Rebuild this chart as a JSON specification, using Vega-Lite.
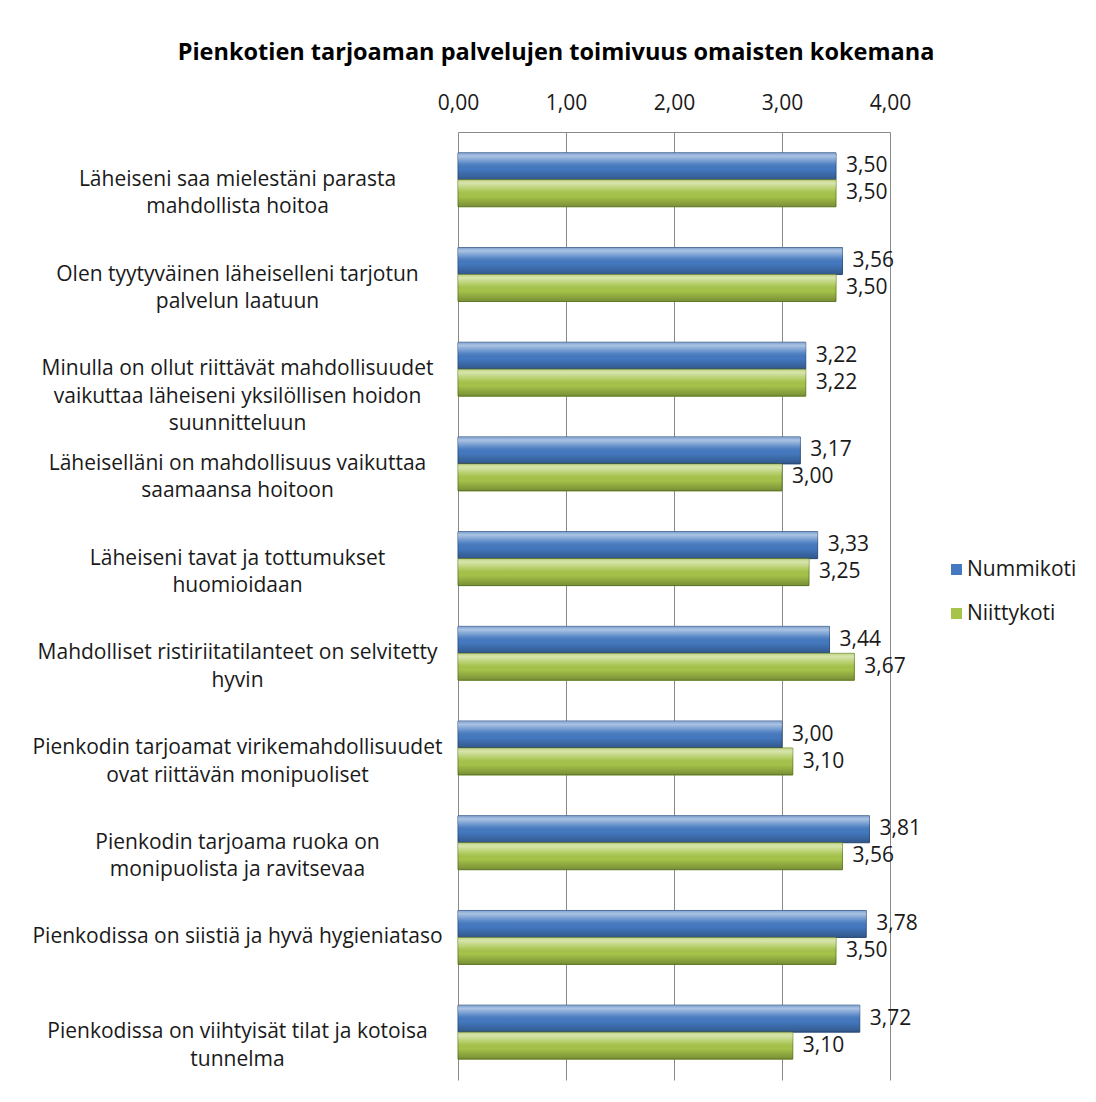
{
  "$schema": "https://vega.github.io/schema/vega-lite/v6.json",
  "autosize": {"type": "none"},
  "width": 432,
  "height": 948,
  "padding": {"left": 458, "top": 132, "right": 206, "bottom": 22},
  "background": "white",
  "title": {
    "text": "Pienkotien tarjoaman palvelujen toimivuus omaisten kokemana",
    "font": "Open Sans",
    "fontSize": 23.5,
    "fontWeight": "bold",
    "color": "#000000",
    "anchor": "middle",
    "frame": "group",
    "dx": -118,
    "offset": 28
  },
  "data": {
    "values": [
      {"kysymys": "Läheiseni saa mielestäni parasta|mahdollista hoitoa", "koti": "Nummikoti", "arvo": 3.50},
      {"kysymys": "Läheiseni saa mielestäni parasta|mahdollista hoitoa", "koti": "Niittykoti", "arvo": 3.50},
      {"kysymys": "Olen tyytyväinen läheiselleni tarjotun|palvelun laatuun", "koti": "Nummikoti", "arvo": 3.56},
      {"kysymys": "Olen tyytyväinen läheiselleni tarjotun|palvelun laatuun", "koti": "Niittykoti", "arvo": 3.50},
      {"kysymys": "Minulla on ollut riittävät mahdollisuudet|vaikuttaa läheiseni yksilöllisen hoidon|suunnitteluun", "koti": "Nummikoti", "arvo": 3.22},
      {"kysymys": "Minulla on ollut riittävät mahdollisuudet|vaikuttaa läheiseni yksilöllisen hoidon|suunnitteluun", "koti": "Niittykoti", "arvo": 3.22},
      {"kysymys": "Läheiselläni on mahdollisuus vaikuttaa|saamaansa hoitoon", "koti": "Nummikoti", "arvo": 3.17},
      {"kysymys": "Läheiselläni on mahdollisuus vaikuttaa|saamaansa hoitoon", "koti": "Niittykoti", "arvo": 3.00},
      {"kysymys": "Läheiseni tavat ja tottumukset|huomioidaan", "koti": "Nummikoti", "arvo": 3.33},
      {"kysymys": "Läheiseni tavat ja tottumukset|huomioidaan", "koti": "Niittykoti", "arvo": 3.25},
      {"kysymys": "Mahdolliset ristiriitatilanteet on selvitetty|hyvin", "koti": "Nummikoti", "arvo": 3.44},
      {"kysymys": "Mahdolliset ristiriitatilanteet on selvitetty|hyvin", "koti": "Niittykoti", "arvo": 3.67},
      {"kysymys": "Pienkodin tarjoamat virikemahdollisuudet|ovat riittävän monipuoliset", "koti": "Nummikoti", "arvo": 3.00},
      {"kysymys": "Pienkodin tarjoamat virikemahdollisuudet|ovat riittävän monipuoliset", "koti": "Niittykoti", "arvo": 3.10},
      {"kysymys": "Pienkodin tarjoama ruoka on|monipuolista ja ravitsevaa", "koti": "Nummikoti", "arvo": 3.81},
      {"kysymys": "Pienkodin tarjoama ruoka on|monipuolista ja ravitsevaa", "koti": "Niittykoti", "arvo": 3.56},
      {"kysymys": "Pienkodissa on siistiä ja hyvä hygieniataso", "koti": "Nummikoti", "arvo": 3.78},
      {"kysymys": "Pienkodissa on siistiä ja hyvä hygieniataso", "koti": "Niittykoti", "arvo": 3.50},
      {"kysymys": "Pienkodissa on viihtyisät tilat ja kotoisa|tunnelma", "koti": "Nummikoti", "arvo": 3.72},
      {"kysymys": "Pienkodissa on viihtyisät tilat ja kotoisa|tunnelma", "koti": "Niittykoti", "arvo": 3.10}
    ]
  },
  "encoding": {
    "y": {
      "field": "kysymys",
      "type": "nominal",
      "sort": null,
      "title": null,
      "scale": {"paddingInner": 0.43, "paddingOuter": 0.22},
      "axis": {
        "labelExpr": "split(datum.label, '|')",
        "labelAlign": "center",
        "labelBaseline": "middle",
        "labelPadding": 221,
        "labelLimit": 0,
        "labelLineHeight": 27.5,
        "labelFont": "Open Sans",
        "labelFontSize": 21,
        "labelColor": "#1a1a1a",
        "ticks": false,
        "domain": false,
        "grid": false
      }
    },
    "yOffset": {
      "field": "koti",
      "type": "nominal",
      "sort": ["Nummikoti", "Niittykoti"],
      "scale": {"paddingInner": 0, "paddingOuter": 0}
    },
    "x": {
      "field": "arvo",
      "type": "quantitative",
      "title": null,
      "scale": {"domain": [0, 4], "nice": false},
      "axis": {
        "orient": "top",
        "values": [0, 1, 2, 3, 4],
        "format": ".2f",
        "labelFlush": false,
        "grid": true,
        "gridColor": "#8a8a8a",
        "gridWidth": 1,
        "domain": true,
        "domainColor": "#8a8a8a",
        "ticks": false,
        "labelPadding": 19,
        "labelFont": "Open Sans",
        "labelFontSize": 21,
        "labelColor": "#1a1a1a"
      }
    }
  },
  "layer": [
    {
      "mark": {"type": "bar", "strokeWidth": 1},
      "encoding": {
        "color": {
          "field": "koti",
          "type": "nominal",
          "sort": ["Nummikoti", "Niittykoti"],
          "scale": {"domain": ["Nummikoti", "Niittykoti"], "range": ["#4479c0", "#a6c44a"]},
          "legend": {
            "title": null,
            "orient": "none",
            "legendX": 488,
            "legendY": 427,
            "symbolType": "square",
            "symbolSize": 121,
            "symbolStrokeWidth": 0,
            "rowPadding": 22,
            "labelFont": "Open Sans",
            "labelFontSize": 21,
            "labelColor": "#1a1a1a",
            "labelOffset": 0
          }
        },
        "stroke": {
          "field": "koti",
          "type": "nominal",
          "scale": {"domain": ["Nummikoti", "Niittykoti"], "range": ["#35598a", "#6f8c2c"]},
          "legend": null
        }
      }
    },
    {
      "mark": {
        "type": "bar",
        "fill": {
          "gradient": "linear",
          "x1": 0, "y1": 0, "x2": 0, "y2": 1,
          "stops": [
            {"offset": 0, "color": "rgba(255,255,255,0.30)"},
            {"offset": 0.12, "color": "rgba(255,255,255,0.55)"},
            {"offset": 0.4, "color": "rgba(255,255,255,0.10)"},
            {"offset": 0.6, "color": "rgba(0,0,0,0.0)"},
            {"offset": 1, "color": "rgba(0,0,0,0.28)"}
          ]
        },
        "strokeWidth": 0
      },
      "encoding": {}
    },
    {
      "mark": {
        "type": "text",
        "align": "left",
        "baseline": "middle",
        "dx": 10,
        "font": "Open Sans",
        "fontSize": 21,
        "color": "#1a1a1a"
      },
      "encoding": {
        "text": {"field": "arvo", "type": "quantitative", "format": ".2f"}
      }
    }
  ],
  "config": {
    "locale": {
      "number": {"decimal": ",", "thousands": "\u00a0", "grouping": [3], "currency": ["", "\u00a0€"]}
    },
    "view": {"stroke": null}
  }
}
